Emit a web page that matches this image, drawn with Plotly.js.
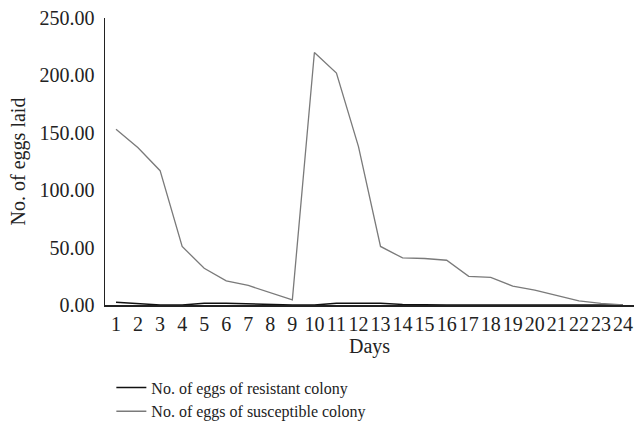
<!DOCTYPE html>
<html>
<head>
<meta charset="utf-8">
<script src="https://cdn.plot.ly/plotly-3.0.1.min.js"></script>
<style>html,body{margin:0;padding:0;background:#fff;}#chart{width:634px;height:423px;}</style>
</head>
<body>
<div id="chart"></div>
<script>
var days = ["1","2","3","4","5","6","7","8","9","10","11","12","13","14","15","16","17","18","19","20","21","22","23","24"];
var resistant = [2.5, 1, 0, 0, 1.5, 1.5, 0.8, 0.3, 0, 0, 1.5, 1.5, 1.5, 0.5, 0, 0, 0, 0, 0, 0, 0, 0, 0, 0];
var susceptible = [153, 137, 117, 51, 32, 21, 17, 11, 4.5, 220, 202, 138, 51, 41, 40.5, 39, 25, 24, 16.5, 13, 8.5, 3.5, 1.5, 0];
var yTicks = [0, 50, 100, 150, 200, 250];
var yTickLabels = ["0.00", "50.00", "100.00", "150.00", "200.00", "250.00"];

var font = "Liberation Serif, Times New Roman, serif";
var traces = [
  {x: days, y: resistant, type: "scatter", mode: "lines", name: "No. of eggs of resistant colony",
   line: {color: "#111111", width: 1.5}},
  {x: days, y: susceptible, type: "scatter", mode: "lines", name: "No. of eggs of susceptible colony",
   line: {color: "#7a7a7a", width: 1.3}}
];
var layout = {
  width: 634, height: 423,
  margin: {l: 105, r: 0, t: 18, b: 118, autoexpand: false},
  paper_bgcolor: "#fff", plot_bgcolor: "#fff",
  font: {family: font, size: 18, color: "#222"},
  showlegend: true,
  legend: {x: 0.012, xanchor: "left", xref: "paper", y: 0.124, yref: "container", yanchor: "top", orientation: "v",
           font: {family: font, size: 16, color: "#222"}, tracegroupgap: 0, itemwidth: 30},
  xaxis: {type: "category", range: [-0.5, 23.5], showline: true, linecolor: "#222", linewidth: 1.5,
          showgrid: false, zeroline: false, ticks: "", tickangle: 0, tickmode: "array", tickvals: days, ticktext: days,
          automargin: false, tickfont: {family: font, size: 20, color: "#222"},
          title: {text: "Days", font: {family: font, size: 20, color: "#222"}, standoff: 4}},
  yaxis: {range: [0, 250], showline: true, linecolor: "#222", linewidth: 1.5, showgrid: false,
          zeroline: false, ticks: "", tickvals: yTicks, ticktext: yTickLabels, automargin: false,
          ticklabelstandoff: 5,
          tickfont: {family: font, size: 20, color: "#222"},
          title: {text: "No. of eggs laid", font: {family: font, size: 20, color: "#222"}, standoff: 8}}
};
Plotly.newPlot("chart", traces, layout, {displayModeBar: false, staticPlot: true});
</script>
</body>
</html>
